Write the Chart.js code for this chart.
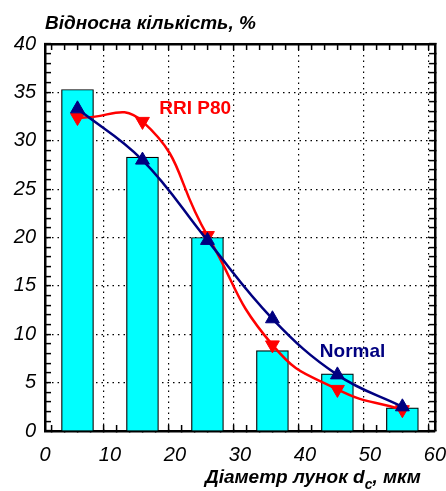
<!DOCTYPE html>
<html>
<head>
<meta charset="utf-8">
<script src="https://cdn.jsdelivr.net/npm/chart.js@4.4.1/dist/chart.umd.min.js"></script>
<style>
  html, body { margin: 0; padding: 0; background: #fff; }
  #wrap { width: 446px; height: 491px; }
</style>
</head>
<body>
<div id="wrap"><canvas id="chart" width="446" height="491"></canvas></div>
<script>
// Дані
const diameters = [5, 15, 25, 35, 45, 55];
const barValues = [35.3, 28.3, 20.0, 8.3, 5.9, 2.4];
const normalValues = [33.3, 28.0, 19.7, 11.6, 5.8, 2.5];
const rriValues = [32.4, 32.0, 20.2, 8.9, 4.3, 2.2];
const xTicks = [0, 10, 20, 30, 40, 50, 60];
const yTicks = [0, 5, 10, 15, 20, 25, 30, 35, 40];

const FONT = 'Arial, "Liberation Sans", sans-serif';

function toPoints(values) {
    return diameters.map((d, i) => ({ x: d, y: values[i] }));
}

// дрібні засічки: кожні 2 по X, кожна 1 по Y
function minorTicks(max, step) {
    const out = [];
    for (let v = 0; v <= max; v += step) out.push({ value: v });
    return out;
}

// Спільні налаштування осей з засічками всередину
function axis(extra, majors, max, step, withLabels, pad, lineHeight) {
    return Object.assign({
        min: 0,
        max: max,
        afterBuildTicks: (scale) => { scale.ticks = minorTicks(max, step); },
        grid: {
            drawOnChartArea: withLabels,
            color: (c) => (c.tick && majors.includes(c.tick.value) ? '#000' : 'rgba(0,0,0,0)'),
            lineWidth: 1.2,
            drawTicks: true,
            tickLength: -6,
            tickColor: '#000',
            tickWidth: 1.5,
            tickBorderDash: [],
        },
        border: { display: true, color: '#000', width: 2.5, dash: [1.5, 4] },
        ticks: {
            display: withLabels,
            color: '#000',
            autoSkip: false,
            maxRotation: 0,
            padding: pad,
            font: { family: FONT, size: 20, style: 'italic', lineHeight: lineHeight },
            callback: (v) => (majors.includes(v) ? String(v) : ''),
        },
    }, extra);
}

// Заголовки і підписи кривих
const textPlugin = {
    id: 'texts',
    afterDraw(chart) {
        const ctx = chart.ctx;
        const area = chart.chartArea;
        const xs = chart.scales.x;
        const ys = chart.scales.y;
        ctx.save();
        ctx.fillStyle = '#000';
        ctx.textBaseline = 'alphabetic';
        ctx.textAlign = 'left';
        ctx.font = 'italic bold 19px ' + FONT;
        ctx.fillText('Відносна кількість, %', area.left, 29);

        let x = 205;
        const yBase = 483;
        ctx.fillText('Діаметр лунок d', x, yBase);
        x += ctx.measureText('Діаметр лунок d').width;
        ctx.font = 'italic bold 14px ' + FONT;
        ctx.fillText('c', x, yBase + 6);
        x += ctx.measureText('c').width;
        ctx.font = 'italic bold 19px ' + FONT;
        ctx.fillText(', мкм', x, yBase);

        ctx.font = 'bold 19px ' + FONT;
        ctx.fillStyle = '#ff0000';
        ctx.fillText('RRI P80', xs.getPixelForValue(17.6), ys.getPixelForValue(32.8));
        ctx.fillStyle = '#000080';
        ctx.fillText('Normal', xs.getPixelForValue(42.3), ys.getPixelForValue(7.6));
        ctx.restore();
    }
};

new Chart(document.getElementById('chart'), {
    type: 'bar',
    data: {
        datasets: [
            {
                type: 'line',
                label: 'Normal',
                data: toPoints(normalValues),
                borderColor: '#000080',
                backgroundColor: '#000080',
                borderWidth: 2.5,
                tension: 0.4,
                pointStyle: 'triangle',
                pointRadius: 8,
                pointBorderWidth: 1,
                order: 0,
            },
            {
                type: 'line',
                label: 'RRI P80',
                data: toPoints(rriValues),
                borderColor: '#ff0000',
                backgroundColor: '#ff0000',
                borderWidth: 2.5,
                tension: 0.5,
                pointStyle: 'triangle',
                pointRotation: 180,
                pointRadius: 8,
                pointBorderWidth: 1,
                order: 1,
            },
            {
                label: 'Частка',
                data: toPoints(barValues),
                backgroundColor: '#00ffff',
                borderColor: '#000',
                borderWidth: 1.2,
                barThickness: 32,
                order: 2,
            },
        ],
    },
    options: {
        responsive: false,
        animation: false,
        layout: { padding: { top: 44, right: 0, left: 0, bottom: 0 } },
        plugins: {
            legend: { display: false },
            tooltip: { enabled: false },
        },
        scales: {
            x: axis({
                type: 'linear', position: 'bottom', offset: false,
                afterFit: (s) => { s.height = 60; },
            }, xTicks, 60, 2, true, 0, 3.0),
            x2: axis({
                type: 'linear', position: 'top', offset: false,
                afterFit: (s) => { s.height = 0; },
            }, xTicks, 60, 2, false, 0, 1.2),
            y: axis({
                type: 'linear', position: 'left',
                afterFit: (s) => { s.width = 45; },
            }, yTicks, 40, 1, true, 15, 1.2),
            y2: axis({
                type: 'linear', position: 'right',
                afterFit: (s) => { s.width = 0; },
            }, yTicks, 40, 1, false, 0, 1.2),
        },
    },
    plugins: [textPlugin],
});
</script>
</body>
</html>
